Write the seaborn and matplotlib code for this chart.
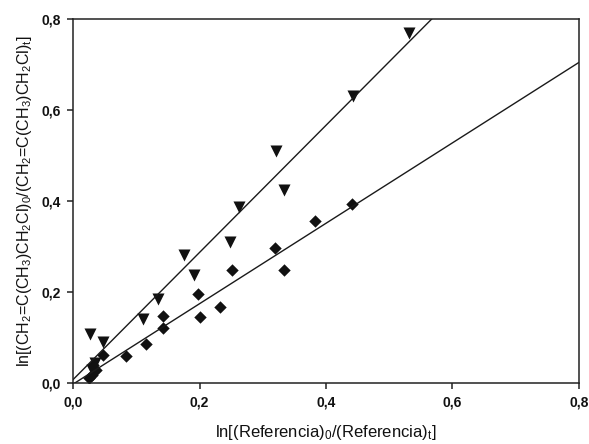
import matplotlib
matplotlib.use("Agg")
import matplotlib.pyplot as plt
import seaborn as sns
import pandas as pd
from matplotlib.ticker import FuncFormatter

# triangles: methallyl chloride vs reference (first series)
tri_x = [0.027, 0.030, 0.035, 0.047, 0.111, 0.134, 0.175, 0.192, 0.248,
         0.262, 0.321, 0.334, 0.443, 0.532]
tri_y = [0.107, 0.028, 0.045, 0.090, 0.140, 0.185, 0.281, 0.238, 0.309,
         0.388, 0.509, 0.425, 0.631, 0.769]

# diamonds: second series
dia_x = [0.026, 0.030, 0.032, 0.037, 0.047, 0.084, 0.115, 0.143, 0.143,
         0.198, 0.200, 0.233, 0.252, 0.320, 0.333, 0.383, 0.441]
dia_y = [0.011, 0.018, 0.040, 0.029, 0.062, 0.060, 0.085, 0.147, 0.121,
         0.195, 0.145, 0.166, 0.249, 0.297, 0.249, 0.357, 0.393]

ticks = [0.0, 0.2, 0.4, 0.6, 0.8]

sns.set_style("white")
plt.rcParams["font.family"] = ["Liberation Sans", "DejaVu Sans"]
plt.rcParams["mathtext.fontset"] = "custom"
plt.rcParams["mathtext.rm"] = "Liberation Sans"
plt.rcParams["mathtext.it"] = "Liberation Sans"

tri = pd.DataFrame({"x": tri_x, "y": tri_y})
dia = pd.DataFrame({"x": dia_x, "y": dia_y})

fig = plt.figure(figsize=(5.89, 4.44), dpi=100)
ax = fig.add_axes([0.124, 0.1374, 0.859, 0.8196])
ax.set_xlim(0, 0.8)
ax.set_ylim(0, 0.8)

line_kws = {"color": "#1a1a1a", "lw": 1.0}
sns.regplot(data=tri, x="x", y="y", ax=ax, ci=None, truncate=False,
            marker="v", scatter_kws={"s": 75, "color": "#111111", "linewidths": 0, "alpha": 1},
            line_kws=line_kws)
sns.regplot(data=dia, x="x", y="y", ax=ax, ci=None, truncate=False,
            marker="D", scatter_kws={"s": 40, "color": "#111111", "linewidths": 0, "alpha": 1},
            line_kws=line_kws)

ax.set_xlim(0, 0.8)
ax.set_ylim(0, 0.8)
ax.set_xticks(ticks)
ax.set_yticks(ticks)
fmt = FuncFormatter(lambda v, p: f"{v:.1f}".replace(".", ","))
ax.xaxis.set_major_formatter(fmt)
ax.yaxis.set_major_formatter(fmt)
ax.tick_params(direction="out", length=4, width=1.1, color="#222222",
               labelsize=10, labelcolor="#111111",
               bottom=True, left=True, top=False, right=False, pad=5)
for lab in ax.get_xticklabels() + ax.get_yticklabels():
    lab.set_fontweight("bold")
for s in ax.spines.values():
    s.set_linewidth(1.1)
    s.set_color("#222222")

ax.set_xlabel(r"ln[(Referencia)$_0$/(Referencia)$_\mathrm{t}$]", fontsize=12,
              color="#111111", labelpad=10)
ax.set_ylabel(r"ln[(CH$_2$=C(CH$_3$)CH$_2$Cl)$_0$/(CH$_2$=C(CH$_3$)CH$_2$Cl)$_\mathrm{t}$]",
              fontsize=11.5, color="#111111", labelpad=5)

fig.savefig("out.png", dpi=100)
